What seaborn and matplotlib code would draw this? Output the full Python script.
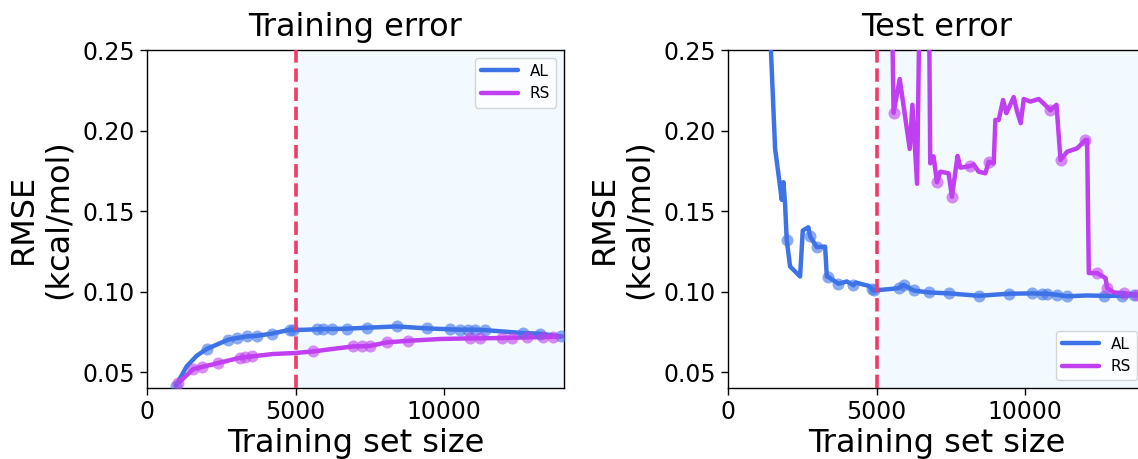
import numpy as np
import pandas as pd
import matplotlib
matplotlib.use("Agg")
import matplotlib.pyplot as plt
import seaborn as sns

# ---------------- data ----------------
# Training error, AL
train_al_x = [976, 1336, 1673, 2010, 2347, 2739, 3020, 3357, 3694, 4198, 4815, 4927,
              5713, 5915, 6218, 6723, 7397, 8407, 9418, 10202, 10539, 10819, 11044,
              11380, 12671, 13232, 13929]
train_al_y = [0.0418, 0.0537, 0.0603, 0.0645, 0.0672, 0.0703, 0.0713, 0.0723, 0.0727,
              0.0740, 0.0765, 0.0762, 0.0767, 0.0769, 0.0769, 0.0771, 0.0777, 0.0785,
              0.0773, 0.0767, 0.0765, 0.0765, 0.0765, 0.0762, 0.0744, 0.0740, 0.0723]
train_al_mark = [1, 0, 0, 1, 0, 1, 1, 1, 1, 1, 1, 1, 1, 1, 1, 1, 1, 1, 1, 1, 1, 1, 1, 1, 1, 1, 1]

# Training error, RS
train_rs_x = [1055, 1560, 1841, 2402, 3131, 3300, 3525, 4253, 4983, 5600, 6498, 6947,
              7228, 7508, 8070, 8799, 9865, 10875, 11212, 11943, 12279, 12784, 13345,
              13681, 13962]
train_rs_y = [0.0434, 0.0521, 0.0533, 0.0558, 0.0591, 0.0595, 0.0599, 0.0614, 0.0620,
              0.0630, 0.0651, 0.0661, 0.0662, 0.0664, 0.0686, 0.0696, 0.0707, 0.0711,
              0.0711, 0.0713, 0.0715, 0.0717, 0.0719, 0.0721, 0.0723]
train_rs_mark = [1, 1, 1, 1, 1, 1, 1, 0, 0, 1, 0, 1, 1, 1, 1, 1, 0, 1, 1, 1, 1, 1, 1, 1, 0]

# Test error, AL
test_al_x = [1100, 1585, 1810, 1866, 1920, 1978, 2090, 2427, 2517, 2708, 2765, 2989,
             3270, 3327, 3383, 3720, 4001, 4225, 4300, 4731, 4844, 4900, 5462, 5743,
             5911, 6248, 6754, 7428, 8440, 9451, 10238, 10576, 10744, 11082, 11419,
             12080, 12652, 13271, 13665, 14000]
test_al_y = [0.400, 0.189, 0.157, 0.168, 0.155, 0.132, 0.1157, 0.1095, 0.138, 0.140,
             0.1343, 0.1277, 0.128, 0.1095, 0.1091, 0.1050, 0.1064, 0.1040, 0.1057,
             0.1037, 0.1017, 0.1008, 0.1017, 0.1023, 0.1043, 0.1008, 0.0996, 0.0990,
             0.0975, 0.0988, 0.0990, 0.0988, 0.0988, 0.0981, 0.0972, 0.0977, 0.0975,
             0.0975, 0.0979, 0.0977]
test_al_mark = [0, 0, 0, 0, 0, 1, 0, 0, 0, 0, 1, 1, 0, 0, 1, 1, 0, 1, 0, 0, 1, 1, 0, 1,
                1, 1, 1, 1, 1, 1, 1, 1, 1, 1, 1, 0, 1, 1, 1, 0]

# Test error, RS
test_rs_x = [1000, 3000, 5500, 5575, 5782, 6119, 6209, 6366, 6480, 6750, 6810, 6922,
             7034, 7147, 7428, 7540, 7730, 7822, 8159, 8272, 8440, 8665, 8777, 8946,
             9002, 9115, 9261, 9373, 9620, 9733, 9856, 9957, 10183, 10464, 10633,
             10858, 11060, 11195, 11419, 11756, 12036, 12091, 12148, 12429, 12710,
             12766, 12991, 13330, 13780, 14000]
test_rs_y = [0.600, 0.450, 0.300, 0.211, 0.232, 0.1886, 0.216, 0.167, 0.320, 0.320,
             0.1797, 0.184, 0.168, 0.1745, 0.1735, 0.159, 0.1843, 0.177, 0.178, 0.179,
             0.1745, 0.1735, 0.1807, 0.1797, 0.2066, 0.2066, 0.219, 0.2108, 0.2208,
             0.2118, 0.2046, 0.2196, 0.218, 0.2196, 0.2167, 0.2126, 0.216, 0.1818,
             0.1869, 0.189, 0.1942, 0.1942, 0.1116, 0.1116, 0.1085, 0.1023, 0.0996,
             0.0990, 0.0983, 0.0983]
test_rs_mark = [0, 0, 0, 1, 0, 0, 0, 0, 0, 0, 0, 0, 1, 0, 0, 1, 0, 0, 1, 0, 0, 0, 1, 0,
                0, 0, 0, 0, 0, 0, 0, 0, 0, 0, 0, 1, 0, 1, 0, 0, 1, 0, 0, 1, 0, 1, 0, 1,
                1, 0]

titles = ["Training error", "Test error"]
x_label = "Training set size"
y_label = "RMSE\n(kcal/mol)"
x_ticks = [0, 5000, 10000]
y_ticks = [0.05, 0.10, 0.15, 0.20, 0.25]
initial_size = 5000

# ---------------- style ----------------
sns.set_theme(style="ticks")
plt.rcParams["font.family"] = ["DejaVu Sans"]
plt.rcParams["text.color"] = "black"
plt.rcParams["axes.labelcolor"] = "black"
plt.rcParams["xtick.color"] = "black"
plt.rcParams["ytick.color"] = "black"

c_al = "#3e73e8"
c_rs = "#c03ff0"
c_dash = "#f03a6a"
c_shade = "#f2f9ff"

fig = plt.figure(figsize=(11.38, 4.59), dpi=100)
ax_l = fig.add_axes([147 / 1138, 1 - 388 / 459, 417 / 1138, 338 / 459])
ax_r = fig.add_axes([728 / 1138, 1 - 388 / 459, 417 / 1138, 338 / 459])


def draw(ax, alx, aly, alm, rsx, rsy, rsm, title, legend_loc):
    ax.axvspan(initial_size, 20000, color=c_shade, lw=0, zorder=0)
    df_al = pd.DataFrame({"x": alx, "y": aly, "m": alm})
    df_rs = pd.DataFrame({"x": rsx, "y": rsy, "m": rsm})
    sns.lineplot(data=df_al, x="x", y="y", ax=ax, color=c_al, lw=3.2, sort=False,
                 label="AL", zorder=3)
    sns.lineplot(data=df_rs, x="x", y="y", ax=ax, color=c_rs, lw=3.2, sort=False,
                 label="RS", zorder=3)
    sns.scatterplot(data=df_al[df_al.m == 1], x="x", y="y", ax=ax, color=c_al,
                    s=75, alpha=0.6, linewidth=0, zorder=4, legend=False)
    sns.scatterplot(data=df_rs[df_rs.m == 1], x="x", y="y", ax=ax, color=c_rs,
                    s=75, alpha=0.6, linewidth=0, zorder=4, legend=False)
    ax.axvline(initial_size, color=c_dash, ls="--", lw=2.6, zorder=5)
    ax.set_xlim(0, 14040)
    ax.set_ylim(0.0403, 0.25)
    ax.set_xticks(x_ticks)
    ax.set_yticks(y_ticks)
    ax.set_yticklabels([f"{v:.2f}" for v in y_ticks])
    ax.tick_params(labelsize=17, length=5, width=1, color="black", labelcolor="black")
    ax.set_title(title, fontsize=23, pad=10, color="black")
    ax.set_xlabel(x_label, fontsize=23, labelpad=3, color="black")
    ax.set_ylabel(y_label, fontsize=23, labelpad=6, color="black")
    for sp in ax.spines.values():
        sp.set_color("black")
        sp.set_linewidth(1.0)
    leg = ax.legend(loc=legend_loc, fontsize=11, handlelength=2.4, frameon=True)
    for t in leg.get_texts():
        t.set_color("black")


draw(ax_l, train_al_x, train_al_y, train_al_mark, train_rs_x, train_rs_y,
     train_rs_mark, titles[0], "upper right")
draw(ax_r, test_al_x, test_al_y, test_al_mark, test_rs_x, test_rs_y,
     test_rs_mark, titles[1], "lower right")

fig.savefig("out.png", dpi=100)
